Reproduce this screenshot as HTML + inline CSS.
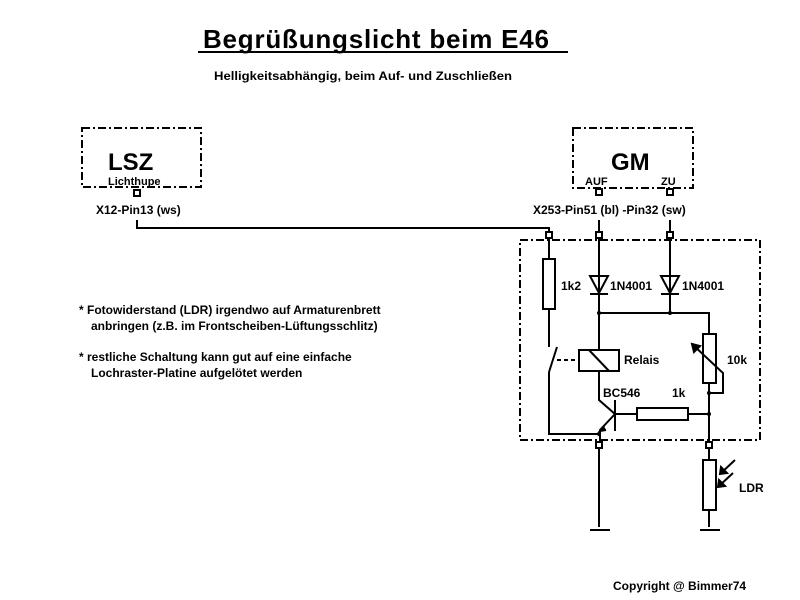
<!DOCTYPE html>
<html><head><style>body{margin:0;background:#fff}svg{display:block}text{font-family:"Liberation Sans",sans-serif;font-weight:bold;fill:#000}</style></head><body>
<svg width="800" height="600" viewBox="0 0 800 600" xmlns="http://www.w3.org/2000/svg">
<g fill="none" stroke="#000" stroke-width="2">
<text x="203" y="48" font-size="26" textLength="346" lengthAdjust="spacing" stroke="none">Begrüßungslicht  beim  E46</text>
<line x1="198" y1="52" x2="568" y2="52"/>
<g stroke-dasharray="8,3,2,3">
<rect x="82" y="128" width="119" height="59"/>
<rect x="573" y="128" width="120" height="60"/>
<rect x="520" y="240" width="240" height="200"/>
</g>
<g fill="#fff">
<rect x="134" y="190" width="6" height="6"/>
<rect x="596" y="189" width="6" height="6"/>
<rect x="667" y="189" width="6" height="6"/>
<rect x="546" y="232" width="6" height="6"/>
<rect x="596" y="232" width="6" height="6"/>
<rect x="667" y="232" width="6" height="6"/>
<rect x="596" y="442" width="6" height="6"/>
<rect x="706" y="442" width="6" height="6"/>
</g>
<path d="M137 220V228H549V232"/>
<path d="M599 220V232M670 220V232"/>
<path d="M599 238V313M670 238V313M599 313H709V334"/>
<path d="M549 238V259M549 309V347M549 372V434H599"/>
<rect x="543" y="259" width="12" height="50"/>
<path d="M557 347L549 372"/>
<line x1="557" y1="360" x2="579" y2="360" stroke-dasharray="4,3"/>
<path d="M590 276H608L599 293ZM590 294H608M661 276H679L670 293ZM661 294H679"/>
<rect x="579" y="350" width="40" height="21"/>
<path d="M589 350L609 371"/>
<path d="M599 313V350M599 371V400L615 414M615 400V431M615 414H637M615 414L600 430V442"/>
<path d="M604 426L600 431L606 430" fill="#000"/>
<rect x="637" y="408" width="51" height="12"/>
<path d="M688 414H709"/>
<rect x="703" y="334" width="13" height="49"/>
<path d="M692 344L723 373V393H709M709 383V442"/>
<path d="M692 344L700 346L694 352Z" fill="#000"/>
<path d="M599 448V527M590 530H610M709 448V460M709 510V527M700 530H720"/>
<rect x="703" y="460" width="13" height="50"/>
<path d="M735 460L720 474M733 473L718 487"/>
<path d="M720 474L721 467L727 473ZM718 487L719 480L725 486Z" fill="#000"/>
</g>
<g fill="#000">
<circle cx="599" cy="313" r="2"/><circle cx="670" cy="313" r="2"/><circle cx="599" cy="434" r="2"/>
<circle cx="709" cy="393" r="2"/><circle cx="709" cy="414" r="2"/>
</g>
<text x="214" y="80" font-size="12" textLength="298" lengthAdjust="spacingAndGlyphs">Helligkeitsabhängig, beim Auf- und Zuschließen</text>
<text x="108" y="170" font-size="24">LSZ</text>
<text x="108" y="185" font-size="11">Lichthupe</text>
<text x="611" y="170" font-size="24">GM</text>
<text x="585" y="185" font-size="11">AUF</text>
<text x="661" y="185" font-size="11">ZU</text>
<text x="96" y="214" font-size="12">X12-Pin13 (ws)</text>
<text x="533" y="214" font-size="12">X253-Pin51 (bl)  -Pin32 (sw)</text>
<text x="561" y="290" font-size="12">1k2</text>
<text x="610" y="290" font-size="12">1N4001</text>
<text x="682" y="290" font-size="12">1N4001</text>
<text x="624" y="364" font-size="12">Relais</text>
<text x="727" y="364" font-size="12">10k</text>
<text x="603" y="397" font-size="12">BC546</text>
<text x="672" y="397" font-size="12">1k</text>
<text x="739" y="492" font-size="12">LDR</text>
<text x="79" y="314" font-size="12">* Fotowiderstand (LDR) irgendwo auf Armaturenbrett</text>
<text x="91" y="330" font-size="12">anbringen (z.B. im Frontscheiben-Lüftungsschlitz)</text>
<text x="79" y="361" font-size="12">* restliche Schaltung kann gut auf eine einfache</text>
<text x="91" y="377" font-size="12">Lochraster-Platine aufgelötet werden</text>
<text x="613" y="590" font-size="12">Copyright @ Bimmer74</text>
</svg>
</body></html>
